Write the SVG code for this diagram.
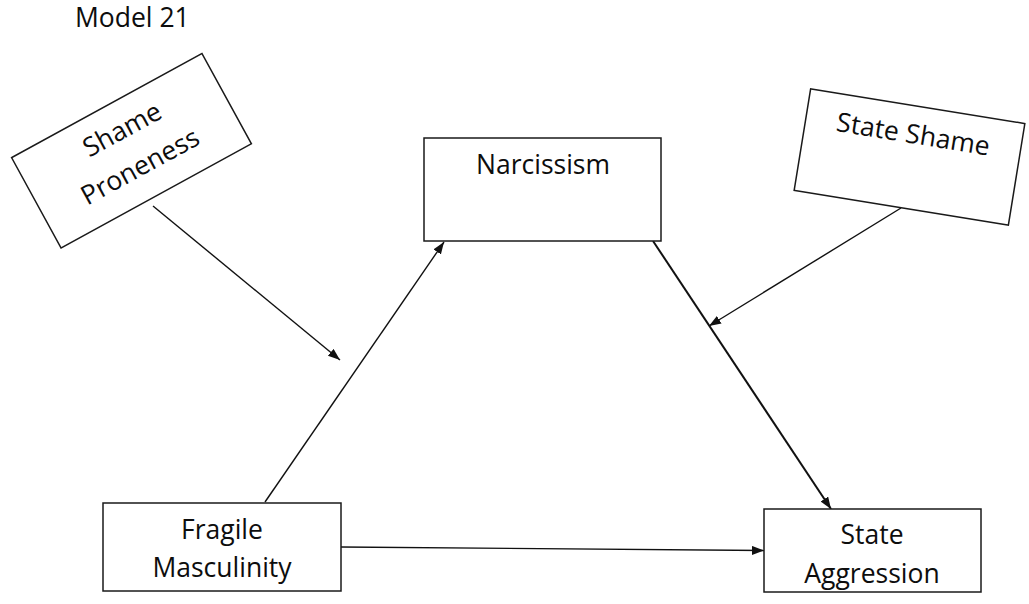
<svg xmlns="http://www.w3.org/2000/svg" width="1029" height="604" viewBox="0 0 1029 604">
  <style>
    .box { fill: #ffffff; stroke: #1a1a1a; stroke-width: 1.5; }
    .lbl { font-family: "Open Sans", Lato, "Liberation Sans", sans-serif; font-size: 26.5px; fill: #0d0d0d; text-anchor: middle; }
    .edge { stroke: #111111; stroke-width: 1.4; fill: none; marker-end: url(#head); }
    .edge.heavy { stroke-width: 2; }
  </style>
  <defs>
    <marker id="head" markerUnits="userSpaceOnUse" markerWidth="13" markerHeight="10" refX="12" refY="4.5" orient="auto">
      <path d="M0,0 L12,4.5 L0,9 Z" fill="#111111"/>
    </marker>
  </defs>

  <rect width="1029" height="604" fill="#ffffff"/>

  <text id="title" class="lbl" x="75" y="27" style="text-anchor:start">Model 21</text>

  <!-- connectors -->
  <g id="connectors">
    <line class="edge" x1="153" y1="206" x2="340" y2="360"/>
    <line class="edge" x1="265" y1="502" x2="444" y2="242"/>
    <line class="edge heavy" x1="653" y1="241" x2="831" y2="509"/>
    <line class="edge" x1="901" y1="208" x2="709" y2="326"/>
    <line class="edge" x1="341" y1="547" x2="764" y2="550.5"/>
  </g>

  <!-- nodes -->
  <g id="shame-proneness" transform="translate(131.5,150.7) rotate(-28.7)">
    <rect class="box" x="-108.5" y="-51.5" width="217" height="103"/>
    <text class="lbl" x="2" y="-14">Shame</text>
    <text class="lbl" x="0" y="27">Proneness</text>
  </g>

  <g id="narcissism">
    <rect class="box" x="424" y="138" width="237" height="103"/>
    <text class="lbl" x="543" y="174">Narcissism</text>
  </g>

  <g id="state-shame" transform="translate(909.5,157) rotate(9.2)">
    <rect class="box" x="-108.5" y="-51.5" width="217" height="103"/>
    <text class="lbl" x="0" y="-14">State Shame</text>
  </g>

  <g id="fragile-masculinity">
    <rect class="box" x="103" y="503" width="238" height="88"/>
    <text class="lbl" x="222" y="539">Fragile</text>
    <text class="lbl" x="222" y="577">Masculinity</text>
  </g>

  <g id="state-aggression">
    <rect class="box" x="764" y="509" width="217" height="83"/>
    <text class="lbl" x="872" y="544">State</text>
    <text class="lbl" x="872" y="583">Aggression</text>
  </g>
</svg>
